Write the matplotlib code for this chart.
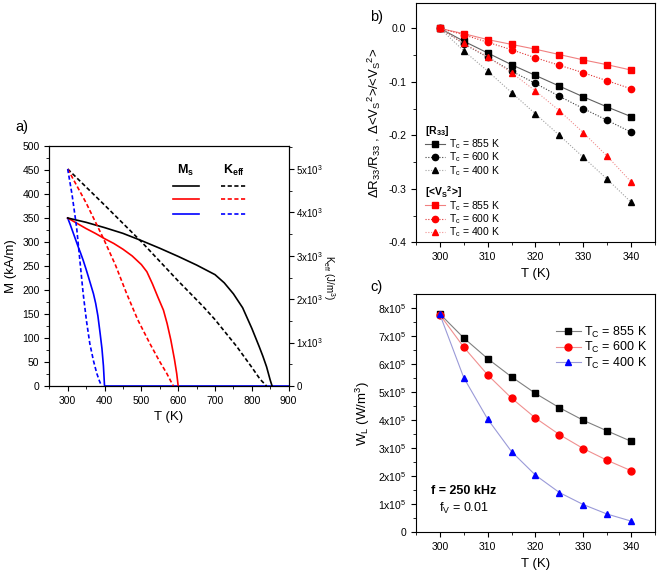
import numpy as np
import matplotlib
matplotlib.use("Agg")
import matplotlib.pyplot as plt
from matplotlib.ticker import MultipleLocator, FuncFormatter, FormatStrFormatter

plt.rcParams['font.family'] = ['Liberation Sans', 'DejaVu Sans']
plt.rcParams['mathtext.fontset'] = 'custom'
plt.rcParams['mathtext.rm'] = 'Liberation Sans'
plt.rcParams['mathtext.it'] = 'Liberation Sans:italic'
plt.rcParams['mathtext.bf'] = 'Liberation Sans:bold'
plt.rcParams['mathtext.default'] = 'regular'
plt.rcParams['axes.unicode_minus'] = False
plt.rcParams['font.size'] = 7.5
plt.rcParams['axes.linewidth'] = 0.8

# ---- panel a: M_s(T) and K_eff(T) curves for three Curie temperatures ----
ms_855_T = [300, 350, 400, 450, 500, 550, 600, 650, 700, 725, 750, 775, 800, 820, 830, 840,
            845, 850, 855, 900]
ms_855_M = [350, 341, 330, 318, 303, 287, 270, 252, 232, 215, 192, 163, 120, 82, 62, 40,
            26, 12, 0, 0]
ms_600_T = [300, 325, 350, 375, 400, 425, 450, 475, 500, 515, 530, 545, 560, 570, 580, 590,
            596, 600, 900]
ms_600_M = [350, 339, 328, 318, 307, 297, 285, 271, 253, 238, 213, 185, 158, 130, 96, 55,
            26, 0, 0]
ms_400_T = [300, 307, 314, 321, 328, 335, 342, 350, 356, 363, 370, 376, 382, 388, 393, 397,
            400, 900]
ms_400_M = [350, 336, 321, 306, 291, 277, 262, 243, 228, 210, 192, 172, 146, 110, 78, 42,
            0, 0]

k_855_T = [300, 400, 500, 600, 668, 700, 759, 800, 822, 840]
k_855_K = [5000, 4170, 3325, 2420, 1830, 1530, 910, 430, 160, 0]
k_600_T = [300, 350, 397, 430, 460, 490, 523, 550, 569, 580, 587]
k_600_K = [5000, 4220, 3400, 2780, 2130, 1530, 980, 560, 290, 110, 0]
k_400_T = [300, 312, 324, 333, 342, 351, 360, 370, 379, 386, 392]
k_400_K = [5000, 4400, 3670, 2900, 2130, 1500, 980, 580, 290, 120, 0]

# ---- panel b: relative changes vs T ----
T_b = [300, 305, 310, 315, 320, 325, 330, 335, 340]
r33_855 = [0, -0.024, -0.046, -0.068, -0.088, -0.108, -0.128, -0.147, -0.165]
r33_600 = [0, -0.029, -0.054, -0.080, -0.103, -0.127, -0.150, -0.172, -0.194]
r33_400 = [0, -0.042, -0.080, -0.120, -0.160, -0.200, -0.241, -0.282, -0.325]
vs_855 = [0, -0.010, -0.021, -0.030, -0.039, -0.049, -0.059, -0.068, -0.078]
vs_600 = [0, -0.012, -0.026, -0.040, -0.055, -0.069, -0.083, -0.098, -0.113]
vs_400 = [0, -0.028, -0.053, -0.083, -0.117, -0.154, -0.195, -0.239, -0.287]

# ---- panel c: W_L vs T ----
T_c = [300, 305, 310, 315, 320, 325, 330, 335, 340]
wl_855 = [7.80e5, 6.94e5, 6.20e5, 5.55e5, 4.96e5, 4.45e5, 4.00e5, 3.62e5, 3.25e5]
wl_600 = [7.77e5, 6.61e5, 5.62e5, 4.79e5, 4.08e5, 3.49e5, 2.99e5, 2.57e5, 2.20e5]
wl_400 = [7.78e5, 5.52e5, 4.04e5, 2.88e5, 2.04e5, 1.42e5, 0.99e5, 0.65e5, 0.40e5]

tc_labels = ["855 K", "600 K", "400 K"]


def sci_fmt(exp):
    def f(v, pos):
        if abs(v) < 1e-9:
            return "0"
        return "%dx10$^{%d}$" % (round(v / 10**exp), exp)
    return FuncFormatter(f)


fig = plt.figure(figsize=(6.58, 5.71), dpi=100)

# panel a
ax_a = fig.add_axes([0.0749, 0.324, 0.3638, 0.4203])
ax_a.plot(ms_400_T, ms_400_M, color="blue", lw=1.2)
ax_a.plot(ms_600_T[:-1], ms_600_M[:-1], color="red", lw=1.2)
ax_a.plot(ms_855_T[:-1], ms_855_M[:-1], color="black", lw=1.2)
ax_a.set_xlim(250, 900)
ax_a.set_ylim(0, 500)
ax_a.xaxis.set_major_locator(MultipleLocator(100))
ax_a.xaxis.set_minor_locator(MultipleLocator(50))
ax_a.yaxis.set_major_locator(MultipleLocator(50))
ax_a.yaxis.set_minor_locator(MultipleLocator(25))
ax_a.set_xlabel("T (K)", fontsize=9.5)
ax_a.set_ylabel("M (kA/m)", fontsize=9.5)

ax_k = ax_a.twinx()
ax_k.plot(k_855_T, k_855_K, color="black", lw=1.2, ls=(0, (2.5, 1.5)))
ax_k.plot(k_600_T, k_600_K, color="red", lw=1.2, ls=(0, (2.5, 1.5)))
ax_k.plot(k_400_T, k_400_K, color="blue", lw=1.2, ls=(0, (2.5, 1.5)))
ax_k.set_ylim(0, 5530)
ax_k.yaxis.set_major_locator(MultipleLocator(1000))
ax_k.yaxis.set_minor_locator(MultipleLocator(500))
ax_k.yaxis.set_major_formatter(sci_fmt(3))
ax_k.set_ylabel("K$_{eff}$ (J/m$^3$)", fontsize=7, rotation=270, va="center")
ax_k.yaxis.set_label_coords(1.17, 0.45)

# hand-made legend of panel a
for yy, col in zip([0.833, 0.778, 0.718], ["black", "red", "blue"]):
    ax_a.plot([0.515, 0.627], [yy, yy], color=col, lw=1.2, transform=ax_a.transAxes)
    ax_a.plot([0.719, 0.822], [yy, yy], color=col, lw=1.2, ls=(0, (2.5, 1.5)),
              transform=ax_a.transAxes)
ax_a.text(0.571, 0.897, "M$_s$", transform=ax_a.transAxes, ha="center", va="center",
          fontsize=9, fontweight="bold")
ax_a.text(0.77, 0.897, "K$_{eff}$", transform=ax_a.transAxes, ha="center", va="center",
          fontsize=9, fontweight="bold")
fig.text(15 / 658, 1 - 127 / 571, "a)", fontsize=10.5, ha="left", va="center")

# panel b
ax_b = fig.add_axes([0.6322, 0.5757, 0.3632, 0.4196])
ms = 4.5
h1 = ax_b.plot(T_b, r33_855, color="#606060", lw=0.8, ls="-", marker="s", ms=ms,
               mfc="black", mec="black", label="T$_c$ = " + tc_labels[0])[0]
h2 = ax_b.plot(T_b, r33_600, color="#404040", lw=0.8, ls=(0, (1, 1.5)), marker="o", ms=ms,
               mfc="black", mec="black", label="T$_c$ = " + tc_labels[1])[0]
h3 = ax_b.plot(T_b, r33_400, color="#a0a0a0", lw=0.8, ls=(0, (1, 1.5)), marker="^", ms=ms,
               mfc="black", mec="black", label="T$_c$ = " + tc_labels[2])[0]
h4 = ax_b.plot(T_b, vs_855, color="#f08080", lw=0.8, ls="-", marker="s", ms=ms,
               mfc="red", mec="red", label="T$_c$ = " + tc_labels[0])[0]
h5 = ax_b.plot(T_b, vs_600, color="#e03030", lw=0.8, ls=(0, (1, 1.5)), marker="o", ms=ms,
               mfc="red", mec="red", label="T$_c$ = " + tc_labels[1])[0]
h6 = ax_b.plot(T_b, vs_400, color="#f09090", lw=0.8, ls=(0, (1, 1.5)), marker="^", ms=ms,
               mfc="red", mec="red", label="T$_c$ = " + tc_labels[2])[0]
ax_b.set_xlim(295, 345)
ax_b.set_ylim(-0.4, 0.048)
ax_b.xaxis.set_major_locator(MultipleLocator(10))
ax_b.xaxis.set_minor_locator(MultipleLocator(5))
ax_b.yaxis.set_major_locator(MultipleLocator(0.1))
ax_b.yaxis.set_minor_locator(MultipleLocator(0.05))
ax_b.yaxis.set_major_formatter(FormatStrFormatter("%.1f"))
ax_b.set_xlabel("T (K)", fontsize=9.5)
ax_b.set_ylabel("ΔR$_{33}$/R$_{33}$ , Δ<V$_S$$^2$>/<V$_S$$^2$>", fontsize=9.5)
leg_kw = dict(frameon=False, fontsize=7.5, handlelength=2.0, handletextpad=0.3,
              labelspacing=-0.05, borderpad=0.1, alignment="left",
              title_fontproperties={"weight": "bold", "size": 7.5})
leg1 = ax_b.legend(handles=[h1, h2, h3], title="[R$_{33}$]", loc="upper left",
                   bbox_to_anchor=(0.01, 0.52), **leg_kw)
ax_b.add_artist(leg1)
ax_b.legend(handles=[h4, h5, h6], title="[<V$_S$$^2$>]", loc="upper left",
            bbox_to_anchor=(0.01, 0.27), **leg_kw)
fig.text(370 / 658, 1 - 17 / 571, "b)", fontsize=10.5, ha="left", va="center")

# panel c
ax_c = fig.add_axes([0.6322, 0.0678, 0.3632, 0.4168])
ax_c.plot(T_c, wl_855, color="#808080", lw=0.8, marker="s", ms=ms, mfc="black", mec="black",
          label="T$_C$ = " + tc_labels[0])
ax_c.plot(T_c, wl_600, color="#f09090", lw=0.8, marker="o", ms=ms + 0.5, mfc="red", mec="red",
          label="T$_C$ = " + tc_labels[1])
ax_c.plot(T_c, wl_400, color="#9a9ad8", lw=0.8, marker="^", ms=ms + 0.5, mfc="blue", mec="blue",
          label="T$_C$ = " + tc_labels[2])
ax_c.set_xlim(295, 345)
ax_c.set_ylim(0, 8.5e5)
ax_c.xaxis.set_major_locator(MultipleLocator(10))
ax_c.xaxis.set_minor_locator(MultipleLocator(5))
ax_c.yaxis.set_major_locator(MultipleLocator(1e5))
ax_c.yaxis.set_minor_locator(MultipleLocator(0.5e5))
ax_c.yaxis.set_major_formatter(sci_fmt(5))
ax_c.set_xlabel("T (K)", fontsize=9.5)
ax_c.set_ylabel("W$_L$ (W/m$^3$)", fontsize=9.5)
ax_c.legend(loc="upper right", bbox_to_anchor=(1.0, 0.905), frameon=False, fontsize=9,
            handlelength=2.0, handletextpad=0.3, labelspacing=0.05, borderpad=0.1)
ax_c.text(0.2, 0.172, "f = 250 kHz", transform=ax_c.transAxes, ha="center", va="center",
          fontsize=9, fontweight="bold")
ax_c.text(0.2, 0.1, "f$_V$ = 0.01", transform=ax_c.transAxes, ha="center", va="center",
          fontsize=9)
fig.text(370 / 658, 1 - 287 / 571, "c)", fontsize=10.5, ha="left", va="center")

for ax in (ax_a, ax_b, ax_c):
    ax.tick_params(which="both", direction="out", top=False, right=False, labelsize=7.5)
    ax.tick_params(which="major", length=3.5)
    ax.tick_params(which="minor", length=2)
ax_k.tick_params(which="both", direction="out", labelsize=7, pad=2)
ax_k.tick_params(which="major", length=3.5)
ax_k.tick_params(which="minor", length=2)

fig.savefig("out.png", dpi=100)
